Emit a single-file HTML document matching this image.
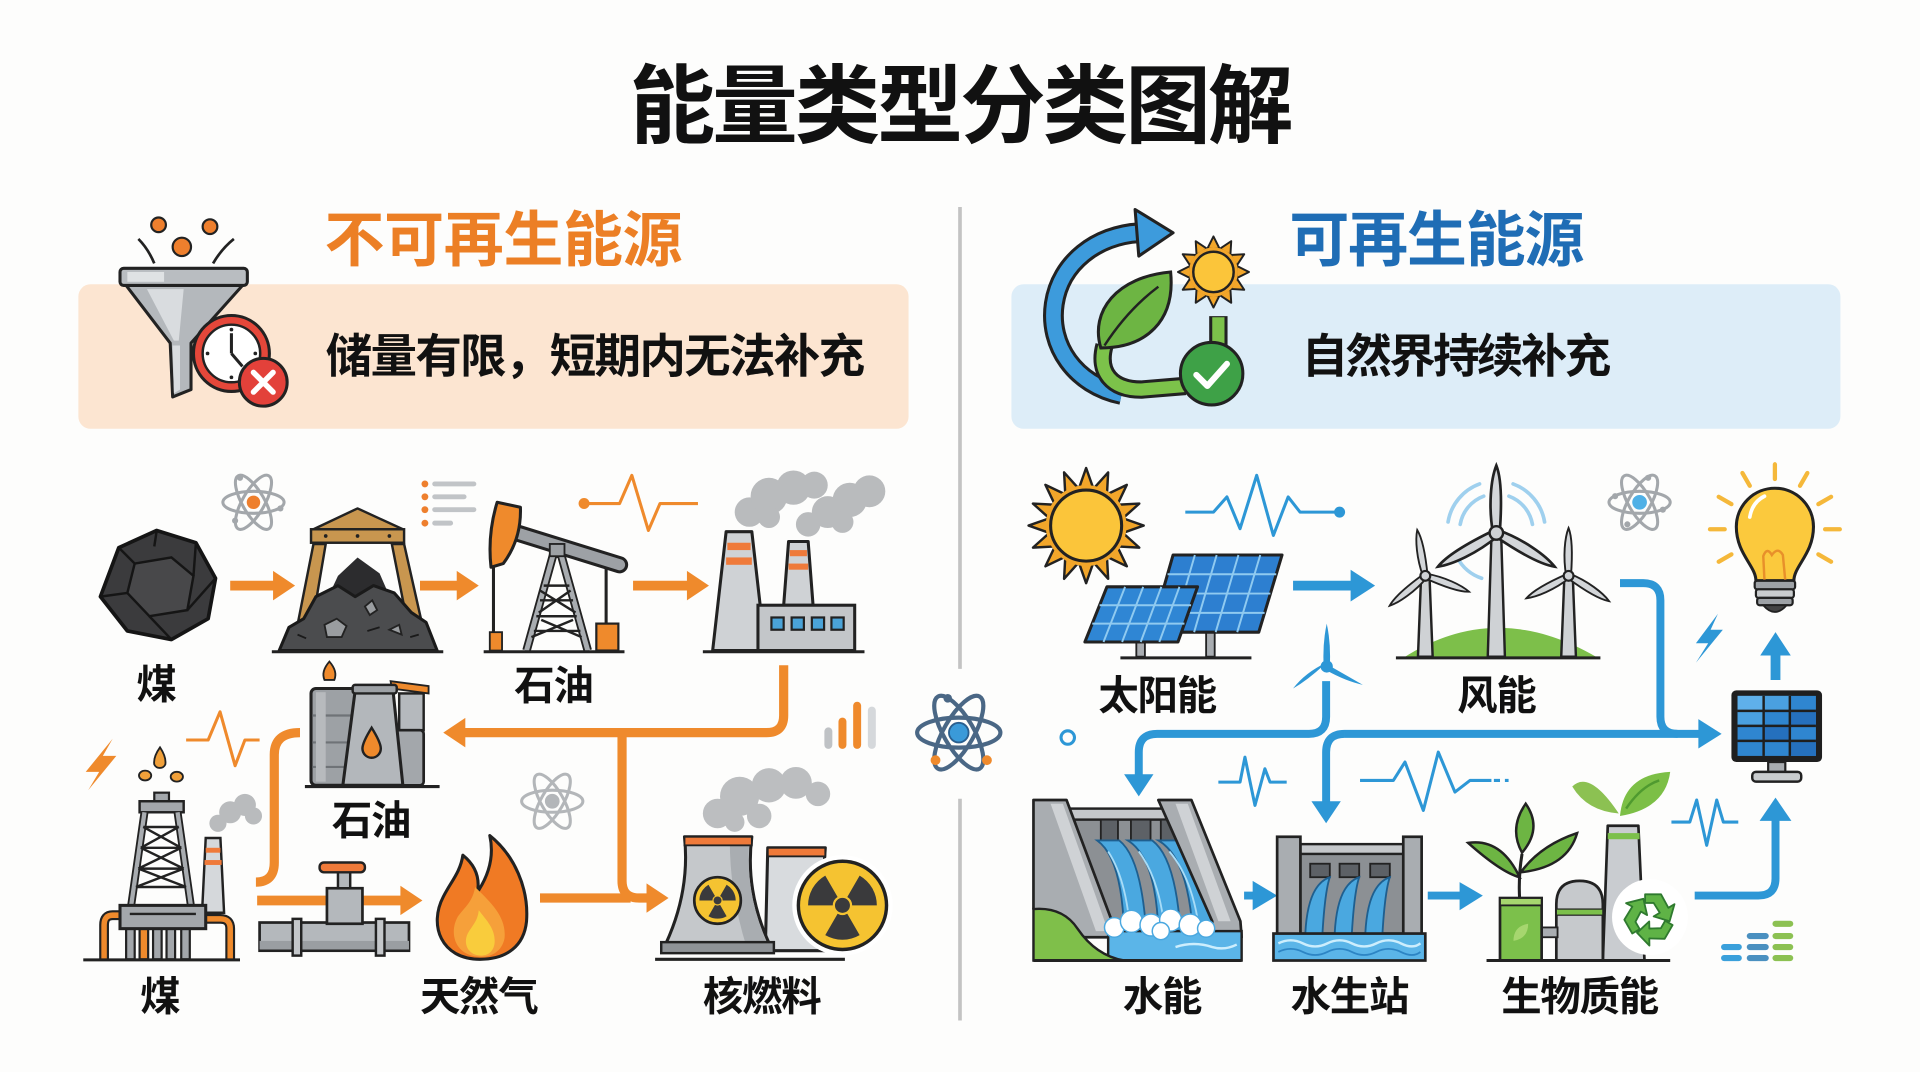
<!DOCTYPE html>
<html><head><meta charset="utf-8">
<style>
html,body{margin:0;padding:0;background:#fdfdfc;width:1920px;height:1072px;overflow:hidden}
svg{display:block}
text{font-family:"Liberation Sans","Noto Sans CJK SC",sans-serif;font-weight:700}
</style></head><body>
<svg width="1920" height="1072" viewBox="0 0 1568 875" preserveAspectRatio="none" xmlns="http://www.w3.org/2000/svg">
<defs>
 <g id="atomRing" fill="none" stroke-width="2.5">
  <ellipse rx="25" ry="9"/>
  <ellipse rx="25" ry="9" transform="rotate(60)"/>
  <ellipse rx="25" ry="9" transform="rotate(-60)"/>
 </g>
 <g id="tre" fill="#3a3a3c">
  <path d="M3.9 6.755 A7.8 7.8 0 0 1 -3.9 6.755 L-1.1 1.905 A2.2 2.2 0 0 0 1.1 1.905 Z"/>
  <path d="M-7.8 0 A7.8 7.8 0 0 1 -3.9 -6.755 L-1.1 -1.905 A2.2 2.2 0 0 0 -2.2 0 Z"/>
  <path d="M3.9 -6.755 A7.8 7.8 0 0 1 7.8 0 L2.2 0 A2.2 2.2 0 0 0 1.1 -1.905 Z"/>
  <circle r="1.7"/>
 </g>
 <path id="bl" d="M-2.5 0 C-6 -20 -4 -40 0 -50 C4 -40 4 -20 2.5 0 Z" fill="#d3d6d9" stroke="#222" stroke-width="2"/>
 <polygon id="spk" points="-6,-30 0,-47 6,-30" fill="#f2a62a" stroke="#222" stroke-width="2" stroke-linejoin="round"/>
 <polygon id="spk2" points="-5,-19 0,-29 5,-19" fill="#f2a62a" stroke="#222" stroke-width="1.6" stroke-linejoin="round"/>
 <path id="rarr" d="M-4 -19 L9 -19 L15 -8 L20 -11 L16 3 L3 -1 L8 -4 L3 -12 L-4 -12 Z" fill="#5fb346" stroke="#2f7a2f" stroke-width="1.5" stroke-linejoin="round"/>
</defs>

<!-- Title -->
<text x="784" y="111" text-anchor="middle" font-size="70" letter-spacing="-2.5" fill="#111">能量类型分类图解</text>

<!-- Divider -->
<line x1="784" y1="169" x2="784" y2="546" stroke="#c3c3c3" stroke-width="3"/>
<line x1="784" y1="652" x2="784" y2="833" stroke="#c3c3c3" stroke-width="3"/>

<!-- Left header box -->
<rect x="64" y="232" width="678" height="118" rx="10" fill="#fce5d1"/>
<text x="265" y="213" font-size="49" fill="#ec7f25" letter-spacing="-0.3">不可再生能源</text>
<text x="266" y="304" font-size="38" letter-spacing="-1.4" fill="#111">储量有限，短期内无法补充</text>

<!-- Funnel icon -->
<path d="M113 195 Q121 203 126 215" fill="none" stroke="#222" stroke-width="2.2"/>
<path d="M191 195 Q181 203 174 215" fill="none" stroke="#222" stroke-width="2.2"/>
<circle cx="129.5" cy="183.5" r="6" fill="#ee7f2d" stroke="#222" stroke-width="1.8"/>
<circle cx="171.5" cy="185" r="6" fill="#ee7f2d" stroke="#222" stroke-width="1.8"/>
<circle cx="148.5" cy="201.5" r="7.5" fill="#ee7f2d" stroke="#222" stroke-width="1.8"/>
<path d="M103 233 L198 233 L156 280 L156 318 L141 324 L139 280 Z" fill="#b4b8bc" stroke="#222" stroke-width="2.5" stroke-linejoin="round"/>
<path d="M120 236 L150 236 L146 278 L142 278 Z" fill="#d9dcdf"/>
<path d="M141 282 L147 282 L147 318 L142 321 Z" fill="#d9dcdf"/>
<rect x="98" y="219" width="104" height="14" rx="3" fill="#b9bdc1" stroke="#222" stroke-width="2.5"/>
<rect x="104" y="222" width="30" height="8" fill="#dfe2e4"/>
<circle cx="189" cy="288.5" r="31" fill="#e5473a" stroke="#222" stroke-width="2.5"/>
<circle cx="189" cy="288.5" r="23.5" fill="#fff" stroke="#222" stroke-width="2"/>
<line x1="189" y1="288.5" x2="189" y2="272" stroke="#222" stroke-width="2.5"/>
<line x1="189" y1="288.5" x2="198" y2="299" stroke="#222" stroke-width="2.5"/>
<circle cx="189" cy="269" r="1.5" fill="#222"/><circle cx="169.5" cy="288.5" r="1.5" fill="#222"/><circle cx="208.5" cy="288.5" r="1.5" fill="#222"/><circle cx="189" cy="308" r="1.5" fill="#222"/>
<circle cx="215" cy="312" r="19.5" fill="#e3413a" stroke="#222" stroke-width="2.5"/>
<path d="M207 304 L223 320 M223 304 L207 320" stroke="#fff" stroke-width="4.5" stroke-linecap="round"/>

<!-- Right header box -->
<rect x="826" y="232" width="677" height="118" rx="10" fill="#ddedf8"/>
<text x="1053" y="213" font-size="49" fill="#1f6db5" letter-spacing="-1">可再生能源</text>
<text x="1063" y="304" font-size="38" letter-spacing="-2.2" fill="#111">自然界持续补充</text>

<!-- Renewable icon -->
<path d="M916 322 C878 314 856 282 861 248 C866 214 896 192 930 190" fill="none" stroke="#222" stroke-width="17"/>
<path d="M916 322 C878 314 856 282 861 248 C866 214 896 192 930 190" fill="none" stroke="#3d9bdc" stroke-width="12"/>
<polygon points="927,171 958,190 930,209" fill="#3d9bdc" stroke="#222" stroke-width="2.5" stroke-linejoin="round"/>
<path d="M995 258 L995 282" fill="none" stroke="#222" stroke-width="15"/>
<path d="M995 259 L995 282" fill="none" stroke="#7cc24a" stroke-width="10"/>
<path d="M902 282 C896 304 908 318 932 318 L968 315" fill="none" stroke="#222" stroke-width="15"/>
<path d="M902 282 C896 304 908 318 932 318 L968 315" fill="none" stroke="#7cc24a" stroke-width="10"/>
<path d="M899 284 C890 254 912 226 956 222 C960 262 936 284 899 284 Z" fill="#6db543" stroke="#222" stroke-width="2.5"/>
<path d="M902 282 C915 262 930 246 946 234" fill="none" stroke="#222" stroke-width="2"/>
<g transform="translate(991,222)">
 <use href="#spk2"/><use href="#spk2" transform="rotate(30)"/><use href="#spk2" transform="rotate(60)"/><use href="#spk2" transform="rotate(90)"/><use href="#spk2" transform="rotate(120)"/><use href="#spk2" transform="rotate(150)"/><use href="#spk2" transform="rotate(180)"/><use href="#spk2" transform="rotate(210)"/><use href="#spk2" transform="rotate(240)"/><use href="#spk2" transform="rotate(270)"/><use href="#spk2" transform="rotate(300)"/><use href="#spk2" transform="rotate(330)"/>
 <circle r="20" fill="#f2a62a"/>
 <circle r="16.5" fill="#fbc53a" stroke="#222" stroke-width="2"/>
</g>
<circle cx="989.5" cy="305" r="25.5" fill="#3ea147" stroke="#222" stroke-width="2.5"/>
<polyline points="977,306 986,315 1002,297" fill="none" stroke="#fff" stroke-width="5" stroke-linecap="round" stroke-linejoin="round"/>

<!-- ===== LEFT LOWER ===== -->
<use href="#atomRing" transform="translate(207,410)" stroke="#a3a7ab"/>
<circle cx="207" cy="410" r="5.5" fill="#ee7f2d"/>
<circle cx="196" cy="390" r="2.5" fill="#a3a7ab"/><circle cx="229" cy="415" r="2.5" fill="#a3a7ab"/><circle cx="192" cy="425" r="2.5" fill="#a3a7ab"/>

<!-- coal -->
<polygon points="97,447 128,433 160,443 176,472 170,505 140,522 104,515 82,487" fill="#3b3b3d" stroke="#151515" stroke-width="3" stroke-linejoin="round"/>
<polygon points="110,460 140,455 158,470 153,498 122,503 104,484" fill="#48484a" stroke="#151515" stroke-width="2"/>
<path d="M97 447 L110 460 M160 443 L158 470 M176 472 L153 498 M140 522 L122 503 M82 487 L104 484 M128 433 L126 446" stroke="#151515" stroke-width="2"/>
<text x="128" y="570" text-anchor="middle" font-size="33" fill="#111">煤</text>

<path d="M188 474 H223 V466 L241 478 L223 490 V482 H188 Z" fill="#ef8a2c"/>

<!-- mine -->
<polygon points="256,444 266,444 254,515 242,515" fill="#c8964f" stroke="#222" stroke-width="2"/>
<polygon points="320,444 330,444 346,515 334,515" fill="#c8964f" stroke="#222" stroke-width="2"/>
<path d="M262 500 L276 470 L292 455 L310 468 L324 500 Z" fill="#2c2c2e"/>
<path d="M228 531 L236 512 L248 505 L258 487 L276 478 L290 487 L305 478 L322 484 L336 500 L348 508 L357 531 Z" fill="#4b4c4e" stroke="#1a1a1a" stroke-width="2.5" stroke-linejoin="round"/>
<polygon points="265,510 275,505 283,511 279,520 267,520" fill="#9a9da0" stroke="#222" stroke-width="1.5"/>
<polygon points="298,495 304,490 308,498 302,502" fill="#9a9da0" stroke="#222" stroke-width="1.5"/>
<polygon points="318,514 326,510 328,518" fill="#9a9da0" stroke="#222" stroke-width="1.5"/>
<path d="M243 518 L250 521 M300 515 L310 512 M335 520 L342 518" stroke="#1a1a1a" stroke-width="1.5"/>
<polygon points="256,432 292,415 329,432" fill="#c8964f" stroke="#222" stroke-width="2" stroke-linejoin="round"/>
<rect x="254" y="432" width="76" height="11" fill="#c8964f" stroke="#222" stroke-width="2"/>
<circle cx="266" cy="437.5" r="1.5" fill="#222"/><circle cx="292" cy="437.5" r="1.5" fill="#222"/><circle cx="318" cy="437.5" r="1.5" fill="#222"/>
<line x1="222" y1="532" x2="362" y2="532" stroke="#222" stroke-width="2.5"/>

<g fill="#ee7f2d"><circle cx="347" cy="395" r="2.8"/><circle cx="347" cy="405.5" r="2.8"/><circle cx="347" cy="416" r="2.8"/><circle cx="347" cy="427" r="2.8"/></g>
<g stroke="#c1c4c7" stroke-width="4" stroke-linecap="round"><line x1="355" y1="395" x2="387" y2="395"/><line x1="355" y1="405.5" x2="379" y2="405.5"/><line x1="355" y1="416" x2="387" y2="416"/><line x1="355" y1="427" x2="368" y2="427"/></g>

<path d="M343 474 H373 V466 L391 478 L373 490 V482 H343 Z" fill="#ef8a2c"/>

<!-- pump jack -->
<line x1="403" y1="462" x2="403" y2="516" stroke="#222" stroke-width="2.5"/>
<rect x="400" y="516" width="10" height="15" fill="#ef8a2c" stroke="#222" stroke-width="1.5"/>
<line x1="495" y1="462" x2="495" y2="509" stroke="#222" stroke-width="2.5"/>
<rect x="487" y="509" width="18" height="22" fill="#ef8a2c" stroke="#222" stroke-width="1.8"/>
<g stroke="#222" stroke-width="7" fill="none"><path d="M430 531 L452 452 L458 452 L480 531"/></g>
<g stroke="#a8acb0" stroke-width="4" fill="none"><path d="M430 531 L452 452 L458 452 L480 531"/></g>
<path d="M438 503 L471 503 M441 490 L468 490 M444 478 L465 478 M440 500 L466 482 M441 482 L470 500 M436 515 L474 515 M434 520 L468 506 M442 506 L475 520" stroke="#222" stroke-width="2"/>
<line x1="419" y1="434" x2="506" y2="461" stroke="#222" stroke-width="14" stroke-linecap="round"/>
<line x1="419" y1="434" x2="506" y2="461" stroke="#9da1a5" stroke-width="9" stroke-linecap="round"/>
<rect x="449" y="444" width="12" height="10" fill="#9da1a5" stroke="#222" stroke-width="1.5"/>
<path d="M406 410 Q398 436 401 463 L411 460 Q426 440 425 414 Z" fill="#ef8a2c" stroke="#222" stroke-width="2.5" stroke-linejoin="round"/>
<line x1="395" y1="532" x2="510" y2="532" stroke="#222" stroke-width="2.5"/>
<text x="452" y="571" text-anchor="middle" font-size="33" letter-spacing="-1" fill="#111">石油</text>

<polyline points="476,411 506,411 516,388 529.5,433 539,411 570,411" fill="none" stroke="#ef8a2c" stroke-width="2.5" stroke-linejoin="round"/>
<circle cx="477" cy="411" r="4.5" fill="#ef8a2c"/>

<path d="M517 474 H561 V466 L579 478 L561 490 V482 H517 Z" fill="#ef8a2c"/>

<!-- factory -->
<g fill="#b9bbbd">
 <circle cx="612" cy="418" r="12"/><circle cx="628" cy="405" r="15"/><circle cx="648" cy="398" r="14"/><circle cx="665" cy="396" r="11"/><circle cx="628" cy="422" r="9"/>
 <circle cx="660" cy="428" r="10"/><circle cx="676" cy="418" r="13"/><circle cx="694" cy="408" r="14"/><circle cx="710" cy="401" r="13"/><circle cx="688" cy="426" r="9"/>
</g>
<polygon points="593,434 614,434 625,531 582,531" fill="#cfd2d5" stroke="#222" stroke-width="2.5" stroke-linejoin="round"/>
<rect x="594" y="443" width="19" height="6" fill="#ef7a3a"/><rect x="593" y="455" width="21" height="6" fill="#ef7a3a"/>
<polygon points="644,442 660,442 664,494 640,494" fill="#cfd2d5" stroke="#222" stroke-width="2.5" stroke-linejoin="round"/>
<rect x="645" y="449" width="14" height="5" fill="#ef7a3a"/><rect x="644" y="460" width="16" height="5" fill="#ef7a3a"/>
<rect x="619" y="494" width="79" height="37" fill="#c3c6c9" stroke="#222" stroke-width="2.5"/>
<g fill="#4aa3d8" stroke="#222" stroke-width="1.8"><rect x="630" y="504" width="10" height="10"/><rect x="646.5" y="504" width="10" height="10"/><rect x="663" y="504" width="10" height="10"/><rect x="679" y="504" width="10" height="10"/></g>
<line x1="574" y1="532" x2="706" y2="532" stroke="#222" stroke-width="2.5"/>

<!-- orange connectors -->
<g fill="none" stroke="#ef8a2c" stroke-width="7.5">
 <path d="M640 543 L640 584 Q640 598 626 598 L378 598"/>
 <path d="M508 598 L508 719 Q508 733 522 733 L532 733"/>
 <path d="M441 733 L515 733"/>
 <path d="M245 598 Q224 598 224 616 L224 704 Q224 720 209 720"/>
</g>
<polygon points="380,586 362,598 380,610" fill="#ef8a2c"/>
<polygon points="528,721 546,733 528,745" fill="#ef8a2c"/>

<!-- refinery -->
<path d="M265 555 Q262 548 269 540 Q276 548 273 555 Z" fill="#ef8a2c" stroke="#222" stroke-width="1.5"/>
<rect x="254" y="562" width="37" height="79" rx="4" fill="#9da1a5" stroke="#222" stroke-width="2.5"/>
<path d="M255 584 H290 M255 606 H290 M255 626 H290" stroke="#6f7377" stroke-width="1.8"/>
<rect x="258" y="565" width="8" height="73" fill="#b7babd"/>
<path d="M319 556 L350 560 L350 566 L320 562 Z" fill="#ef8a2c" stroke="#222" stroke-width="1.5"/>
<rect x="326" y="566" width="20" height="30" fill="#b5b9bd" stroke="#222" stroke-width="2"/>
<rect x="322" y="596" width="24" height="45" rx="3" fill="#a3a7ab" stroke="#222" stroke-width="2.2"/>
<polygon points="290,564 321,564 329,641 280,641" fill="#b3b7bb" stroke="#222" stroke-width="2.5" stroke-linejoin="round"/>
<rect x="288" y="559" width="36" height="7" rx="2" fill="#9da1a5" stroke="#222" stroke-width="2"/>
<path d="M303.5 594 Q296 606 296 611 A7.5 7.5 0 0 0 311 611 Q311 606 303.5 594 Z" fill="#ef8a2c" stroke="#222" stroke-width="2"/>
<line x1="249" y1="642" x2="359" y2="642" stroke="#222" stroke-width="2.5"/>
<text x="303" y="681" text-anchor="middle" font-size="33" letter-spacing="-1" fill="#111">石油</text>

<polygon points="92,603 70,630 81,630 72,645 95,617 84,617" fill="#ef8a2c"/>
<polyline points="152,604 170,604 179.7,581 192,625 200,604 212,604" fill="none" stroke="#ef8a2c" stroke-width="2.5" stroke-linejoin="round"/>

<!-- oil rig -->
<g fill="#b9bbbd"><circle cx="178" cy="672" r="7"/><circle cx="188" cy="663" r="9"/><circle cx="200" cy="657" r="9"/><circle cx="207" cy="666" r="7"/></g>
<path d="M130.7 610 Q125 618 126 624 A5 5 0 0 0 135 624 Q136 618 130.7 610 Z" fill="#f0a03a" stroke="#222" stroke-width="1.5"/>
<ellipse cx="118.5" cy="633" rx="5" ry="4" fill="#f0a03a" stroke="#222" stroke-width="1.5"/>
<ellipse cx="144.4" cy="634" rx="5" ry="4" fill="#f0a03a" stroke="#222" stroke-width="1.5"/>
<rect x="126" y="647" width="12" height="8" fill="#a3a7ab" stroke="#222" stroke-width="1.8"/>
<rect x="114" y="654" width="36" height="9" fill="#a3a7ab" stroke="#222" stroke-width="2"/>
<g stroke="#222" stroke-width="6.5"><line x1="118" y1="663" x2="107" y2="740"/><line x1="145" y1="663" x2="156" y2="740"/></g>
<g stroke="#a8acb0" stroke-width="3.5"><line x1="118" y1="663" x2="107" y2="740"/><line x1="145" y1="663" x2="156" y2="740"/></g>
<path d="M117 675 L146 675 M115 692 L148 692 M113 709 L150 709 M111 724 L152 724 M117 675 L148 692 M146 675 L115 692 M115 692 L150 709 M148 692 L113 709 M113 709 L152 724 M150 709 L111 724" stroke="#222" stroke-width="2"/>
<polygon points="168,684 180,684 183,745 165,745" fill="#d5d8db" stroke="#222" stroke-width="2"/>
<rect x="168" y="692" width="12" height="4" fill="#ef7a3a"/><rect x="167" y="702" width="14" height="4" fill="#ef7a3a"/>
<path d="M99 747 H92 Q85 747 85 755 V783" fill="none" stroke="#222" stroke-width="8"/>
<path d="M99 747 H92 Q85 747 85 755 V783" fill="none" stroke="#ef8a2c" stroke-width="4.5"/>
<path d="M166 750 H180 Q188 750 188 758 V783" fill="none" stroke="#222" stroke-width="8"/>
<path d="M166 750 H180 Q188 750 188 758 V783" fill="none" stroke="#ef8a2c" stroke-width="4.5"/>
<g fill="#a3a7ab" stroke="#222" stroke-width="1.8"><rect x="103" y="757" width="7" height="26"/><rect x="125" y="757" width="7" height="26"/><rect x="136" y="757" width="7" height="26"/><rect x="148" y="757" width="7" height="26"/></g>
<rect x="114" y="757" width="7" height="26" fill="#ef8a2c" stroke="#222" stroke-width="1.8"/>
<rect x="98" y="739" width="70" height="19" fill="#a3a7ab" stroke="#222" stroke-width="2.5"/>
<line x1="106" y1="746" x2="160" y2="746" stroke="#222" stroke-width="2"/>
<line x1="68" y1="783.5" x2="196" y2="783.5" stroke="#222" stroke-width="2.5"/>
<text x="131" y="825" text-anchor="middle" font-size="33" fill="#111">煤</text>

<path d="M210 731 H327 V723 L345 735 L327 747 V739 H210 Z" fill="#ef8a2c"/>
<rect x="212" y="753" width="122" height="23" fill="#b4b8bc" stroke="#222" stroke-width="2.2"/>
<rect x="212" y="768" width="122" height="7" fill="#9a9ea2"/>
<rect x="239" y="750" width="7" height="30" fill="#c4c7ca" stroke="#222" stroke-width="2"/>
<rect x="307" y="750" width="7" height="30" fill="#c4c7ca" stroke="#222" stroke-width="2"/>
<rect x="267" y="725" width="29" height="29" fill="#b4b8bc" stroke="#222" stroke-width="2.2"/>
<rect x="276" y="711" width="10" height="14" fill="#b4b8bc" stroke="#222" stroke-width="2"/>
<rect x="261" y="704" width="37" height="8" rx="3.5" fill="#ef7a3a" stroke="#222" stroke-width="2"/>

<!-- flame -->
<path d="M392 783 C360 783 350 755 362 732 C368 720 376 712 378 698 C388 706 392 716 390 728 C398 716 404 700 400 682 C420 698 432 725 430 752 C428 772 414 783 392 783 Z" fill="#f07a24" stroke="#222" stroke-width="2.5" stroke-linejoin="round"/>
<path d="M393 781 C372 781 366 762 374 748 C380 740 386 736 388 724 C400 736 414 748 412 766 C410 776 402 781 393 781 Z" fill="#f6a03a"/>
<path d="M393 780 C382 780 378 770 382 762 C386 755 390 752 391 743 C398 752 404 758 404 768 C404 775 400 780 393 780 Z" fill="#f9cc3c"/>
<text x="391" y="825" text-anchor="middle" font-size="33" letter-spacing="-1" fill="#111">天然气</text>

<use href="#atomRing" transform="translate(451,654)" stroke="#b3b6b9"/>
<circle cx="451" cy="654" r="6" fill="#b3b6b9"/>

<g stroke-linecap="round" stroke-width="6.5">
 <line x1="676.5" y1="597" x2="676.5" y2="608" stroke="#bfc2c5"/>
 <line x1="688" y1="589" x2="688" y2="608" stroke="#ef8a2c"/>
 <line x1="700" y1="576" x2="700" y2="608" stroke="#ef8a2c"/>
 <line x1="712" y1="580" x2="712" y2="608" stroke="#d5d8db"/>
</g>

<!-- nuclear -->
<g fill="#bcbec0"><circle cx="586" cy="664" r="12"/><circle cx="604" cy="650" r="16"/><circle cx="628" cy="641" r="14"/><circle cx="650" cy="639" r="13"/><circle cx="668" cy="648" r="10"/><circle cx="620" cy="666" r="10"/><circle cx="600" cy="671" r="8"/></g>
<polygon points="627,692 674,692 672,720 680,776 625,776" fill="#d8dbde" stroke="#222" stroke-width="2.5" stroke-linejoin="round"/>
<rect x="627" y="692" width="47" height="7" fill="#ef7a3a" stroke="#222" stroke-width="1.5"/>
<path d="M559 683 L614 683 Q608 730 631 776 L541 776 Q564 730 559 683 Z" fill="#c5c8cb" stroke="#222" stroke-width="2.5" stroke-linejoin="round"/>
<path d="M596 686 L612 686 Q608 730 628 774 L610 774 Q596 730 596 686 Z" fill="#a9adb1"/>
<rect x="559" y="683" width="55" height="7" fill="#ef7a3a" stroke="#222" stroke-width="1.5"/>
<rect x="540" y="769" width="92" height="9" fill="#8f9397" stroke="#222" stroke-width="2"/>
<circle cx="586" cy="735" r="19" fill="#f5c331" stroke="#222" stroke-width="2.2"/>
<use href="#tre" transform="translate(586,735) scale(1.9)"/>
<circle cx="688" cy="739" r="41" fill="#fff"/>
<circle cx="688" cy="739" r="36" fill="#f5c331" stroke="#222" stroke-width="2.8"/>
<use href="#tre" transform="translate(688,739) scale(3.6)"/>
<line x1="535" y1="783" x2="690" y2="783" stroke="#222" stroke-width="2.5"/>
<text x="622" y="825" text-anchor="middle" font-size="33" letter-spacing="-1" fill="#111">核燃料</text>

<!-- center atom -->
<use href="#atomRing" transform="translate(783,598) scale(1.36)" stroke="#4a6785" stroke-width="2.2"/>
<circle cx="783" cy="598" r="8" fill="#3a9ad9" stroke="#2a5f8f" stroke-width="1.5"/>
<circle cx="764" cy="620.5" r="4" fill="#ef8a2c"/><circle cx="806" cy="620.5" r="4" fill="#ef8a2c"/><circle cx="774" cy="570" r="3.5" fill="#4a6785"/>

<!-- ===== RIGHT LOWER ===== -->
<g transform="translate(887,429)">
 <use href="#spk"/><use href="#spk" transform="rotate(22.5)"/><use href="#spk" transform="rotate(45)"/><use href="#spk" transform="rotate(67.5)"/><use href="#spk" transform="rotate(90)"/><use href="#spk" transform="rotate(112.5)"/><use href="#spk" transform="rotate(135)"/><use href="#spk" transform="rotate(157.5)"/><use href="#spk" transform="rotate(180)"/><use href="#spk" transform="rotate(202.5)"/><use href="#spk" transform="rotate(225)"/><use href="#spk" transform="rotate(247.5)"/><use href="#spk" transform="rotate(270)"/><use href="#spk" transform="rotate(292.5)"/><use href="#spk" transform="rotate(315)"/><use href="#spk" transform="rotate(337.5)"/>
 <circle r="33" fill="#f2a62a"/>
 <circle r="29" fill="#fbc53a" stroke="#222" stroke-width="2.5"/>
</g>

<rect x="985" y="514" width="7" height="22" fill="#a9adb1" stroke="#222" stroke-width="1.5"/>
<polygon points="958,453 1047,453 1028,516 940,516" fill="#2d7fd0" stroke="#222" stroke-width="2.5" stroke-linejoin="round"/>
<g stroke="#8fcaf0" stroke-width="1.6"><line x1="975.8" y1="453" x2="957.6" y2="516"/><line x1="993.6" y1="453" x2="975.2" y2="516"/><line x1="1011.4" y1="453" x2="992.8" y2="516"/><line x1="1029.2" y1="453" x2="1010.4" y2="516"/><line x1="953.5" y1="468.75" x2="1042.25" y2="468.75"/><line x1="949" y1="484.5" x2="1037.5" y2="484.5"/><line x1="944.5" y1="500.25" x2="1032.75" y2="500.25"/></g>
<rect x="928" y="522" width="7" height="14" fill="#a9adb1" stroke="#222" stroke-width="1.5"/>
<polygon points="904,479 978,479 962,524 886,524" fill="#2f86d4" stroke="#222" stroke-width="2.5" stroke-linejoin="round"/>
<g stroke="#8fcaf0" stroke-width="1.6"><line x1="918.8" y1="479" x2="901.2" y2="524"/><line x1="933.6" y1="479" x2="916.4" y2="524"/><line x1="948.4" y1="479" x2="931.6" y2="524"/><line x1="963.2" y1="479" x2="946.8" y2="524"/><line x1="898" y1="494" x2="972.7" y2="494"/><line x1="892" y1="509" x2="967.3" y2="509"/></g>
<line x1="915" y1="537" x2="1022" y2="537" stroke="#222" stroke-width="2.5"/>
<text x="945" y="579" text-anchor="middle" font-size="33" letter-spacing="-1" fill="#111">太阳能</text>

<polyline points="968,418 991,418 1002,405.6 1012.7,431.5 1026.3,388 1039.9,437 1052,405.6 1061.7,418 1094,418" fill="none" stroke="#2d97d6" stroke-width="2.5" stroke-linejoin="round"/>
<circle cx="1094" cy="418" r="4.5" fill="#2d97d6"/>

<path d="M1056 474 H1103 V465 L1123 478 L1103 491 V482 H1056 Z" fill="#2d97d6"/>

<!-- wind -->
<g fill="none" stroke="#9fd0ee" stroke-width="3" stroke-linecap="round">
 <path d="M1235.7 395 A40 40 0 0 1 1261.4 426"/>
 <path d="M1232.3 405 A30 30 0 0 1 1251.5 428"/>
 <path d="M1208.3 395 A40 40 0 0 0 1182.6 426"/>
 <path d="M1211.7 405 A30 30 0 0 0 1192.5 428"/>
 <path d="M1190 455 A36 36 0 0 0 1210 472"/>
</g>
<path d="M1146 537 Q1222 488 1305 537 Z" fill="#7dbf4a"/>
<polygon points="1160.5,472 1167.5,472 1170,536 1158,536" fill="#cfd2d5" stroke="#222" stroke-width="2"/>
<use href="#bl" transform="translate(1164,470) rotate(-10) scale(0.76)"/>
<use href="#bl" transform="translate(1164,470) rotate(110) scale(0.76)"/>
<use href="#bl" transform="translate(1164,470) rotate(230) scale(0.76)"/>
<circle cx="1164" cy="470" r="4" fill="#cfd2d5" stroke="#222" stroke-width="1.8"/>
<polygon points="1277.5,472 1284.5,472 1287,536 1275,536" fill="#cfd2d5" stroke="#222" stroke-width="2"/>
<use href="#bl" transform="translate(1281,470) rotate(0) scale(0.78)"/>
<use href="#bl" transform="translate(1281,470) rotate(122) scale(0.78)"/>
<use href="#bl" transform="translate(1281,470) rotate(242) scale(0.78)"/>
<circle cx="1281" cy="470" r="4" fill="#cfd2d5" stroke="#222" stroke-width="1.8"/>
<polygon points="1218,438 1226,438 1229,536 1215,536" fill="#cfd2d5" stroke="#222" stroke-width="2"/>
<use href="#bl" transform="translate(1222,435) rotate(0) scale(1.1)"/>
<use href="#bl" transform="translate(1222,435) rotate(120) scale(1.1)"/>
<use href="#bl" transform="translate(1222,435) rotate(240) scale(1.1)"/>
<circle cx="1222" cy="435" r="5.5" fill="#cfd2d5" stroke="#222" stroke-width="2"/>
<line x1="1140" y1="537" x2="1307" y2="537" stroke="#222" stroke-width="2.5"/>
<text x="1222" y="579" text-anchor="middle" font-size="33" letter-spacing="-1" fill="#111">风能</text>

<use href="#atomRing" transform="translate(1339,410)" stroke="#a3a7ab"/>
<circle cx="1339" cy="410" r="6" fill="#4fb0e6"/>
<circle cx="1319" cy="405" r="2.5" fill="#a3a7ab"/><circle cx="1358" cy="416" r="2.5" fill="#a3a7ab"/><circle cx="1346" cy="390" r="2.5" fill="#a3a7ab"/><circle cx="1329" cy="428" r="2.5" fill="#a3a7ab"/>

<!-- bulb -->
<g stroke="#f5b83a" stroke-width="3.5" stroke-linecap="round">
 <line x1="1449.5" y1="391" x2="1449.5" y2="379"/><line x1="1470" y1="396.5" x2="1476" y2="386.1"/><line x1="1429" y1="396.5" x2="1423" y2="386.1"/>
 <line x1="1485" y1="411.5" x2="1495.4" y2="405.5"/><line x1="1414" y1="411.5" x2="1403.6" y2="405.5"/>
 <line x1="1490.5" y1="432" x2="1502.5" y2="432"/><line x1="1408.5" y1="432" x2="1396.5" y2="432"/>
 <line x1="1485" y1="452.5" x2="1495.4" y2="458.5"/><line x1="1414" y1="452.5" x2="1403.6" y2="458.5"/>
</g>
<path d="M1434 474 C1434 462 1418 452 1418 430 A31.5 31.5 0 0 1 1481 430 C1481 452 1465 462 1465 474 Z" fill="#fbc93d" stroke="#222" stroke-width="2.5"/>
<path d="M1429 422 Q1431 410 1441 405" fill="none" stroke="#fff" stroke-width="3" stroke-linecap="round"/>
<path d="M1441 474 L1440 454 Q1443 446 1447 453 Q1452 446 1456 453 L1458 474" fill="none" stroke="#e8902a" stroke-width="2"/>
<rect x="1433" y="474" width="33" height="7" rx="2" fill="#9ea2a6" stroke="#222" stroke-width="1.8"/>
<rect x="1434" y="481" width="31" height="7" rx="2" fill="#c9ccce" stroke="#222" stroke-width="1.8"/>
<rect x="1435" y="488" width="29" height="6" rx="2" fill="#9ea2a6" stroke="#222" stroke-width="1.8"/>
<path d="M1440 494 Q1449.5 505 1459 494 Z" fill="#444" stroke="#222" stroke-width="1.5"/>

<polygon points="1403,501 1385,525 1395,525 1385,541 1407,514 1397,514" fill="#2d97d6"/>

<path d="M1446 555 V535 H1437.5 L1450 516 L1462.5 535 H1454 V555 Z" fill="#2d97d6"/>

<!-- monitor -->
<rect x="1414" y="563.5" width="74" height="58.5" rx="4" fill="#1f1f1f"/>
<rect x="1419" y="568" width="64" height="49" fill="#2f86d0"/>
<rect x="1419" y="568" width="21" height="12" fill="#5fb0ea"/><rect x="1440" y="568" width="22" height="12" fill="#4aa0e0"/><rect x="1419" y="580" width="21" height="12" fill="#4aa0e0"/><rect x="1462" y="580" width="21" height="12" fill="#2570bd"/><rect x="1440" y="592" width="22" height="13" fill="#2570bd"/><rect x="1462" y="605" width="21" height="12" fill="#2570bd"/>
<g stroke="#1f1f1f" stroke-width="2"><line x1="1440.3" y1="568" x2="1440.3" y2="617"/><line x1="1461.7" y1="568" x2="1461.7" y2="617"/><line x1="1419" y1="580.25" x2="1483" y2="580.25"/><line x1="1419" y1="592.5" x2="1483" y2="592.5"/><line x1="1419" y1="604.75" x2="1483" y2="604.75"/></g>
<rect x="1444" y="622" width="14" height="9" fill="#a9adb1" stroke="#222" stroke-width="1.8"/>
<rect x="1431" y="630" width="40" height="8" rx="3" fill="#c9ccce" stroke="#222" stroke-width="2"/>

<!-- blue connectors -->
<g fill="none" stroke="#2d97d6" stroke-width="6.5">
 <path d="M1323 476 H1342 Q1356 476 1356 490 V585 Q1356 599 1370 599"/>
 <path d="M1098 599 H1390"/>
 <path d="M1098 599 Q1083 599 1083 614 V656"/>
 <path d="M1083 556 V585 Q1083 599 1069 599 H945 Q930 599 930 614 V634"/>
 <path d="M1384 731 H1436 Q1450 731 1450 717 V668"/>
 <path d="M1016 731 H1030"/>
 <path d="M1166 731 H1195"/>
</g>
<polygon points="1387,587 1406,599 1387,611" fill="#2d97d6"/>
<polygon points="1071,654 1083,672 1095,654" fill="#2d97d6"/>
<polygon points="918,632 930,650 942,632" fill="#2d97d6"/>
<polygon points="1437,670 1450,651 1463,670" fill="#2d97d6"/>
<polygon points="1023,719 1043,731 1023,743" fill="#2d97d6"/>
<polygon points="1192,720 1211,731 1192,743" fill="#2d97d6"/>

<g fill="#2d97d6">
 <path d="M1081 544 Q1080 525 1083.5 509 Q1087 525 1086 544 Z"/>
 <path d="M1081 543 Q1068 555 1056 562 Q1066 549 1083 541 Z"/>
 <path d="M1085 543 Q1099 551 1113 559 Q1099 556 1083 547 Z"/>
 <circle cx="1083.5" cy="544" r="5"/>
</g>

<circle cx="872" cy="602" r="5.5" fill="none" stroke="#2d97d6" stroke-width="2.5"/>

<polyline points="995,638.4 1012.7,638.4 1016.7,618 1024.9,657.4 1033,627.5 1037.2,638.4 1050.8,638.4" fill="none" stroke="#2d97d6" stroke-width="2.5" stroke-linejoin="round"/>
<polyline points="1110.7,637 1137.9,637 1147.4,622 1162.4,661.5 1174.6,613.9 1188.2,646.5 1200.5,637 1218,637" fill="none" stroke="#2d97d6" stroke-width="2.5" stroke-linejoin="round"/>
<line x1="1220" y1="637" x2="1232" y2="637" stroke="#2d97d6" stroke-width="2.5" stroke-dasharray="5 4"/>
<polyline points="1365,671 1380,671 1385.6,653 1393.8,690 1402,653 1407.4,671 1419.6,671" fill="none" stroke="#2d97d6" stroke-width="2.5" stroke-linejoin="round"/>

<!-- hydro dam 1 -->
<polygon points="870,661 972,661 1000,752 900,752" fill="#8c9094" stroke="#222" stroke-width="2"/>
<rect x="872" y="660" width="100" height="9" fill="#c4c7ca" stroke="#222" stroke-width="2"/>
<g fill="#5d6166" stroke="#222" stroke-width="1.5"><rect x="899" y="669" width="14" height="17"/><rect x="923.6" y="669" width="16" height="17"/><rect x="948" y="669" width="14" height="17"/></g>
<g fill="#4aa8e0" stroke="#1f5f8f" stroke-width="1.5">
 <path d="M896 686 Q916 700 918 760 L936 760 Q932 700 914 686 Z"/>
 <path d="M921 686 Q944 700 946 760 L964 760 Q960 700 941 686 Z"/>
 <path d="M946 686 Q970 700 974 760 L990 760 Q984 700 963 686 Z"/>
</g>
<g stroke="#a8dcf7" stroke-width="1.5" fill="none"><path d="M905 695 Q918 715 922 750"/><path d="M930 695 Q945 715 950 750"/><path d="M955 695 Q972 715 978 750"/></g>
<polygon points="844,653 871,653 913,765 880,765 844,742" fill="#a9adb1" stroke="#222" stroke-width="2.2" stroke-linejoin="round"/>
<polygon points="858,656 868,656 905,760 895,760" fill="#cfd2d5"/>
<polygon points="946,653 973,653 1013,752 1014,765 990,765 990,752" fill="#a9adb1" stroke="#222" stroke-width="2.2" stroke-linejoin="round"/>
<polygon points="960,656 970,656 1005,752 995,752" fill="#cfd2d5"/>
<rect x="905" y="760" width="109" height="24" fill="#5bb5e8" stroke="#222" stroke-width="2"/>
<g fill="#fff" stroke="#4aa8e0" stroke-width="1.2"><circle cx="910" cy="757" r="8"/><circle cx="924" cy="752" r="9"/><circle cx="940" cy="755" r="9"/><circle cx="956" cy="751" r="9"/><circle cx="972" cy="755" r="9"/><circle cx="985" cy="758" r="7"/><circle cx="948" cy="760" r="7"/></g>
<path d="M960 773 Q975 768 990 773 Q1000 776 1010 771" fill="none" stroke="#cdeefd" stroke-width="2"/>
<path d="M844 742 Q868 740 880 758 Q895 780 918 784 L844 784 Z" fill="#7fbf4a" stroke="#222" stroke-width="2"/>
<line x1="844" y1="784" x2="1014" y2="784" stroke="#222" stroke-width="2.5"/>
<text x="949" y="825" text-anchor="middle" font-size="33" letter-spacing="-1" fill="#111">水能</text>

<!-- hydro dam 2 -->
<rect x="1062" y="695" width="84" height="67" fill="#8c9094" stroke="#222" stroke-width="2"/>
<rect x="1062" y="689" width="84" height="8" fill="#c4c7ca" stroke="#222" stroke-width="2"/>
<g fill="#5d6166" stroke="#222" stroke-width="1.5"><rect x="1070" y="705" width="16" height="11"/><rect x="1094" y="705" width="16" height="11"/><rect x="1119" y="705" width="16" height="11"/></g>
<g fill="#4aa8e0" stroke="#1f5f8f" stroke-width="1.5">
 <path d="M1086 716 Q1068 722 1066 762 L1080 762 Q1082 728 1086 716 Z"/>
 <path d="M1110 716 Q1092 722 1090 762 L1104 762 Q1106 728 1110 716 Z"/>
 <path d="M1135 716 Q1117 722 1115 762 L1129 762 Q1131 728 1135 716 Z"/>
</g>
<rect x="1043" y="683" width="19" height="80" fill="#a9adb1" stroke="#222" stroke-width="2.2"/>
<rect x="1146" y="683" width="15" height="80" fill="#a9adb1" stroke="#222" stroke-width="2.2"/>
<rect x="1040" y="762" width="124" height="22" fill="#5bb5e8" stroke="#222" stroke-width="2.2"/>
<path d="M1044 770 Q1054 765 1064 770 T1084 770 T1104 770 T1124 770 T1144 770 T1160 770" fill="none" stroke="#cdeefd" stroke-width="2"/>
<path d="M1044 777 Q1054 772 1064 777 T1084 777 T1104 777 T1124 777 T1144 777 T1160 777" fill="none" stroke="#2d85c4" stroke-width="1.5"/>
<text x="1102" y="825" text-anchor="middle" font-size="33" letter-spacing="-1" fill="#111">水生站</text>

<!-- biomass -->
<path d="M1284 642 Q1298 628 1322 664 Q1296 662 1284 642 Z" fill="#8cc152"/>
<path d="M1323 666 Q1326 632 1364 630 Q1360 660 1323 666 Z" fill="#7cbf46"/>
<path d="M1328 660 Q1340 642 1355 637" fill="none" stroke="#4f9a2f" stroke-width="2"/>
<polygon points="1313,674 1338,674 1343,784 1309,784" fill="#c9ccd0" stroke="#222" stroke-width="2.2" stroke-linejoin="round"/>
<rect x="1313" y="680" width="26" height="5" fill="#7cc04b"/>
<path d="M1271 784 V738 Q1271 719 1290 719 Q1309 719 1309 738 V784 Z" fill="#c6c9cc" stroke="#222" stroke-width="2.2"/>
<rect x="1271" y="742" width="38" height="5" fill="#7cc04b" stroke="#222" stroke-width="1"/>
<rect x="1259" y="757" width="13" height="8" fill="#a9adb1" stroke="#222" stroke-width="1.5"/>
<rect x="1225" y="733" width="34" height="51" fill="#7cc04b" stroke="#222" stroke-width="2.2"/>
<rect x="1225" y="733" width="34" height="6" fill="#a6d66f" stroke="#222" stroke-width="1.5"/>
<path d="M1236 768 Q1236 756 1248 754 Q1248 766 1236 768 Z" fill="#a6d66f"/>
<path d="M1241 733 Q1240 715 1243 697" fill="none" stroke="#222" stroke-width="2.5"/>
<path d="M1241 716 Q1226 712 1199 688 Q1226 684 1241 716 Z" fill="#6db543" stroke="#222" stroke-width="2"/>
<path d="M1242 712 Q1258 690 1288 680 Q1280 708 1242 712 Z" fill="#6db543" stroke="#222" stroke-width="2"/>
<path d="M1243 696 Q1232 676 1246 656 Q1260 676 1243 696 Z" fill="#6db543" stroke="#222" stroke-width="2"/>
<circle cx="1347.5" cy="748.6" r="31" fill="#fff"/>
<g transform="translate(1347.5,749)">
 <use href="#rarr"/><use href="#rarr" transform="rotate(120)"/><use href="#rarr" transform="rotate(240)"/>
</g>
<line x1="1214" y1="784" x2="1364" y2="784" stroke="#222" stroke-width="2.5"/>
<text x="1290" y="825" text-anchor="middle" font-size="33" letter-spacing="-1" fill="#111">生物质能</text>

<g stroke-linecap="round" stroke-width="5">
 <g stroke="#3aa0db"><line x1="1408" y1="773" x2="1420" y2="773"/><line x1="1408" y1="782" x2="1420" y2="782"/></g>
 <g stroke="#4a90c0"><line x1="1429" y1="764" x2="1442" y2="764"/><line x1="1429" y1="773" x2="1442" y2="773"/><line x1="1429" y1="782" x2="1442" y2="782"/></g>
 <g stroke="#8cc152"><line x1="1450" y1="754" x2="1462" y2="754"/><line x1="1450" y1="764" x2="1462" y2="764"/><line x1="1450" y1="773" x2="1462" y2="773"/><line x1="1450" y1="782" x2="1462" y2="782"/></g>
</g>
</svg>
</body></html>
